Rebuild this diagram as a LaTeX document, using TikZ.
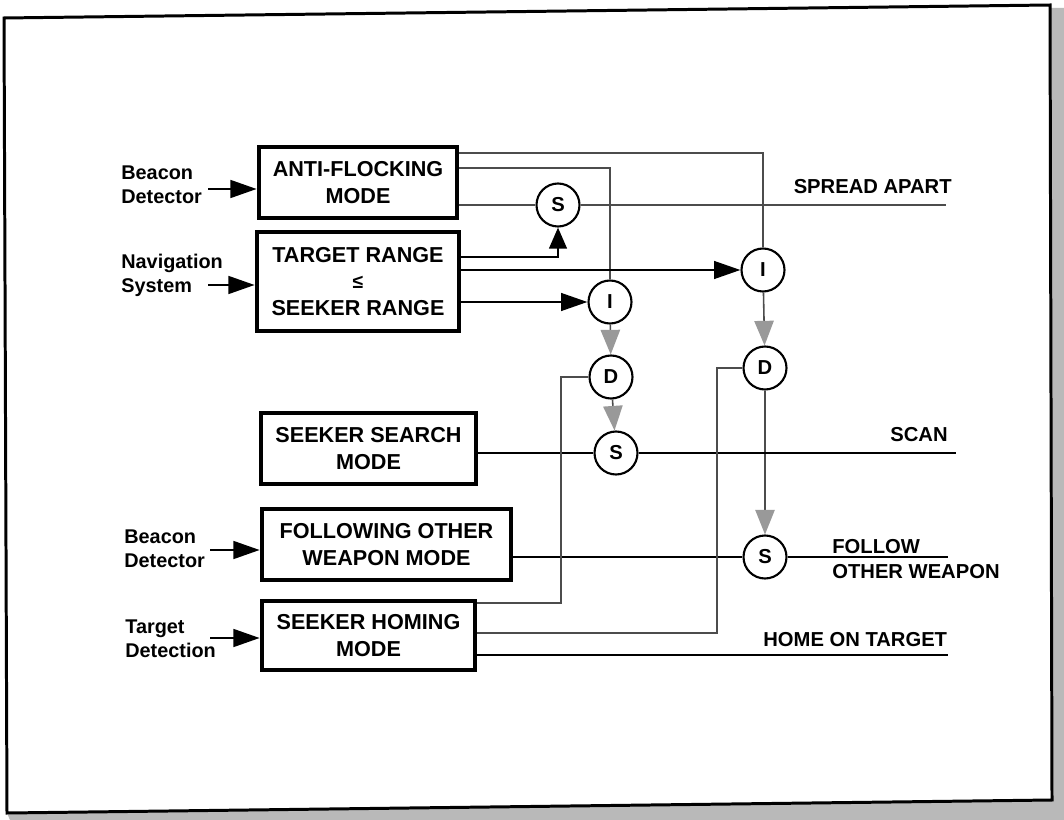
\documentclass[tikz,border=0pt]{standalone}
\usepackage{fontspec}
\setmainfont{Liberation Sans}
\usetikzlibrary{arrows.meta,positioning}

\begin{document}
\begin{tikzpicture}[x=0.02cm,y=-0.02cm,>={Triangle[length=15pt,width=10pt]}]
\tikzstyle{block}=[draw, line width=2.6pt, rectangle, align=center, inner sep=0pt, minimum height=1.42cm, font=\bfseries\fontsize{12.3}{15.3}\selectfont]
\tikzstyle{junct}=[draw, circle, line width=1.2pt, fill=white, minimum size=0.86cm, inner sep=0pt, font=\bfseries\fontsize{11.5}{13}\selectfont]
\tikzstyle{inlabel}=[align=left, inner sep=0pt, anchor=west, font=\bfseries\fontsize{11.3}{13.6}\selectfont]
\tikzstyle{outlabel}=[align=left, inner sep=0pt, font=\bfseries\fontsize{11.5}{14.7}\selectfont]
\tikzstyle{wire}=[line width=1.5pt]
\tikzstyle{inwire}=[->, line width=1.7pt]
\tikzstyle{faint}=[line width=0.9pt, gray!60!black]
\tikzstyle{graytip}=[-{Triangle[length=14pt,width=11pt,fill=gray!80,color=gray!80]}]

\useasboundingbox (0,0) rectangle (1064,820);
\fill[white] (0,0) rectangle (1064,820);
\fill[gray!55] (1050,8) -- (1064,8) -- (1064,820) -- (10,820) -- (7,813) -- (1052,800) -- cycle;
\draw[line width=1.7pt] (4,18) -- (1050,5) -- (1052,800) -- (7,813) -- cycle;

\node[block, minimum width=3.96cm, minimum height=1.42cm] (anti) at (358,182.5) {ANTI-FLOCKING\\MODE};
\node[block, minimum width=4.04cm, minimum height=1.98cm] (range) at (358,281.5) {TARGET RANGE\\{\fontsize{11}{12}\selectfont ≤}\\SEEKER RANGE};
\node[block, minimum width=4.30cm] (search) at (368.5,448.5) {SEEKER SEARCH\\MODE};
\node[block, minimum width=4.98cm] (follow) at (386.5,544.5) {FOLLOWING OTHER\\WEAPON MODE};
\node[block, minimum width=4.26cm, minimum height=1.38cm] (homing) at (368.5,635.5) {SEEKER HOMING\\MODE};

\node[junct] (s1) at (558,205) {S};
\node[junct] (i1) at (610,302) {I};
\node[junct] (i2) at (763,270) {I};
\node[junct] (d1) at (611,377) {D};
\node[junct] (d2) at (765,368) {D};
\node[junct] (s2) at (616,453) {S};
\node[junct] (s3) at (765,557) {S};

\coordinate (bcn1) at (208,189);
\coordinate (nav) at (208,285);
\coordinate (bcn2) at (210,550);
\coordinate (tgt) at (210,638);
\node[inlabel] (bcn1lab) at (121,185) {Beacon\\Detector};
\node[inlabel] (navlab) at (121,275.5) {Navigation\\System};
\node[inlabel] (bcn2lab) at (124,548.5) {Beacon\\Detector};
\node[inlabel] (tgtlab) at (125,639) {Target\\Detection};

\coordinate (spreadout) at (946,205);
\coordinate (scanout) at (956,453);
\coordinate (followout) at (948,557);
\coordinate (homeout) at (948,655);
\node[outlabel, anchor=base east] (spreadlab) at (952,194) {SPREAD APART};
\node[outlabel, anchor=base east] (scanlab) at (948,441) {SCAN};
\node[outlabel, anchor=west] (followlab) at (832,559) {FOLLOW\\OTHER WEAPON};
\node[outlabel, anchor=base west] (homelab) at (763,646) {HOME ON TARGET};

\draw[inwire] (bcn1) -- (anti.west |- bcn1);
\draw[inwire] (nav) -- (range.west |- nav);
\draw[inwire] (bcn2) -- (follow.west |- bcn2);
\draw[inwire] (tgt) -- (homing.west |- tgt);

\draw[faint] (anti.east |- 0,153) -| (i2.north);
\draw[faint] (anti.east |- 0,168) -| (i1.north);
\draw[faint] (anti.east |- s1) -- (s1.west);
\draw[faint] (s1.east) -- (spreadout);

\draw[wire,-{Triangle[length=12pt,width=10pt]}] (range.east |- 0,257) -| (s1.south);
\draw[wire,->] (range.east |- i2) -- (i2.west);
\draw[wire,->] (range.east |- i1) -- (i1.west);

\draw[faint,graytip] (i1) -- (d1);
\draw[faint,graytip] (d1) -- (s2);
\draw[faint,graytip] (i2) -- (d2);
\draw[faint,graytip] (d2) -- (s3);

\draw[wire] (search.east |- s2) -- (s2.west);
\draw[wire] (s2.east) -- (scanout);
\draw[wire] (follow.east |- s3) -- (s3.west);
\draw[wire] (s3.east) -- (followout);

\draw[faint] (homing.east |- 0,603) -- (561,603) |- (d1.west);
\draw[faint] (homing.east |- 0,633) -- (717,633) |- (d2.west);
\draw[wire] (homing.east |- 0,655) -- (homeout);
\end{tikzpicture}
\end{document}
